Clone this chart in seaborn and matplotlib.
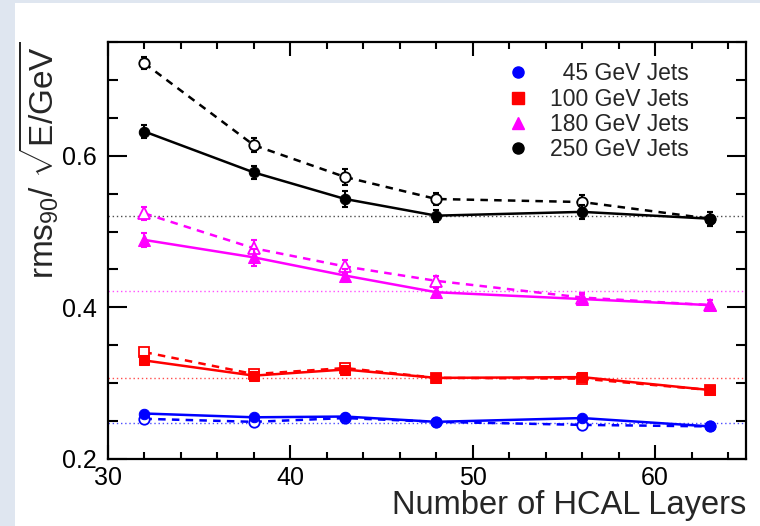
import numpy as np
import pandas as pd
import matplotlib
matplotlib.use('Agg')
import matplotlib.pyplot as plt
import seaborn as sns
from matplotlib.lines import Line2D
from matplotlib.patches import Rectangle

# HCAL 층 수
layers = [32, 38, 43, 48, 56, 63]

# 실선 (채운 마커)
rms45 = [0.260, 0.255, 0.256, 0.249, 0.254, 0.243]
rms100 = [0.330, 0.310, 0.318, 0.307, 0.308, 0.291]
rms180 = [0.489, 0.466, 0.442, 0.420, 0.411, 0.403]
rms250 = [0.632, 0.578, 0.543, 0.521, 0.526, 0.517]

# 점선 (빈 마커)
rms45_alt = [0.253, 0.249, 0.254, 0.249, 0.245, 0.243]
rms100_alt = [0.341, 0.312, 0.320, 0.307, 0.306, 0.291]
rms180_alt = [0.524, 0.478, 0.454, 0.435, 0.413, 0.403]
rms250_alt = [0.722, 0.614, 0.572, 0.543, 0.539, 0.517]

# 오차
err45 = [0.003, 0.003, 0.003, 0.003, 0.003, 0.003]
err100 = [0.004, 0.005, 0.004, 0.004, 0.004, 0.004]
err180 = [0.009, 0.011, 0.008, 0.006, 0.006, 0.007]
err250 = [0.008, 0.009, 0.010, 0.008, 0.009, 0.009]

# 기준선 (수평 점선)
ref_levels = [0.248, 0.307, 0.421, 0.521]

jet_labels = ['  45 GeV Jets', '100 GeV Jets', '180 GeV Jets', '250 GeV Jets']
colors = ['#0000ff', '#ff0000', '#ff00ff', '#000000']
markers = ['o', 's', '^', 'o']
marker_sizes = [7.5, 7.5, 8, 7.5]

sns.set_theme(style='ticks')
plt.rcParams['font.family'] = ['Liberation Sans', 'DejaVu Sans']
plt.rcParams['mathtext.fontset'] = 'custom'
plt.rcParams['mathtext.rm'] = 'Liberation Sans'
plt.rcParams['mathtext.sf'] = 'Liberation Sans'
plt.rcParams['mathtext.it'] = 'Liberation Sans:italic'

fig = plt.figure(figsize=(7.6, 5.26), dpi=100, facecolor='#dfe6f0')
fig.patches.append(Rectangle((15 / 760, 0), 1, 1 - 3 / 526, transform=fig.transFigure,
                             facecolor='white', edgecolor='none', zorder=-10))
ax = fig.add_axes([0.142, 0.1274, 0.840, 0.7926])
ax.set_facecolor('white')

solid = [rms45, rms100, rms180, rms250]
dashed = [rms45_alt, rms100_alt, rms180_alt, rms250_alt]
errs = [err45, err100, err180, err250]

for i in range(4):
    c = colors[i]
    ax.axhline(ref_levels[i], color=c, lw=1.0, ls=(0, (1, 2)), alpha=0.7, zorder=1)

    df_d = pd.DataFrame({'layers': layers, 'rms': dashed[i]})
    ax.errorbar(layers, dashed[i], yerr=errs[i], fmt='none', ecolor=c, elinewidth=1.5,
                capsize=2.5, capthick=1.5, zorder=2)
    sns.lineplot(data=df_d, x='layers', y='rms', ax=ax, color=c, lw=1.8, ls=(0, (3, 2.5)),
                 marker=markers[i], markersize=marker_sizes[i], markerfacecolor='white',
                 markeredgecolor=c, markeredgewidth=1.3, zorder=3)

    df_s = pd.DataFrame({'layers': layers, 'rms': solid[i]})
    ax.errorbar(layers, solid[i], yerr=errs[i], fmt='none', ecolor=c, elinewidth=1.5,
                capsize=2.5, capthick=1.5, zorder=4)
    sns.lineplot(data=df_s, x='layers', y='rms', ax=ax, color=c, lw=1.8,
                 marker=markers[i], markersize=marker_sizes[i], markerfacecolor=c,
                 markeredgecolor=c, zorder=5)

ax.set_xlim(30, 65)
ax.set_ylim(0.2, 0.75)
ax.set_xticks([30, 40, 50, 60])
ax.set_xticks(np.arange(30, 66, 2), minor=True)
ax.set_yticks([0.2, 0.4, 0.6])
ax.set_yticks(np.arange(0.2, 0.751, 0.05), minor=True)
ax.set_yticklabels(['0.2', '0.4', '0.6'])

ax.tick_params(axis='both', which='both', direction='in', top=True, right=True,
               width=1.5, colors='black', labelsize=18)
ax.tick_params(axis='y', which='major', length=14, pad=8)
ax.tick_params(axis='y', which='minor', length=7.5)
ax.tick_params(axis='x', which='major', length=10, pad=5)
ax.tick_params(axis='x', which='minor', length=5)
for s in ax.spines.values():
    s.set_linewidth(1.6)
    s.set_color('black')

ax.set_xlabel('Number of HCAL Layers', fontsize=23.5, loc='right', labelpad=0)
ax.set_ylabel(r'rms$_{90}$/ $\sqrt{\mathrm{E/GeV}}$', fontsize=24, loc='top')
ax.yaxis.set_label_coords(-0.074, 1.0)

handles = [Line2D([], [], ls='none', marker=markers[i], color=colors[i],
                  markersize=marker_sizes[i] + 0.5) for i in range(4)]
ax.legend(handles, jet_labels, loc='upper right', bbox_to_anchor=(0.935, 0.99),
          frameon=False, fontsize=16.5, handlelength=1.0, handletextpad=0.9,
          labelspacing=0.1, borderpad=0.2)

plt.savefig('out.png', dpi=100, facecolor=fig.get_facecolor())
